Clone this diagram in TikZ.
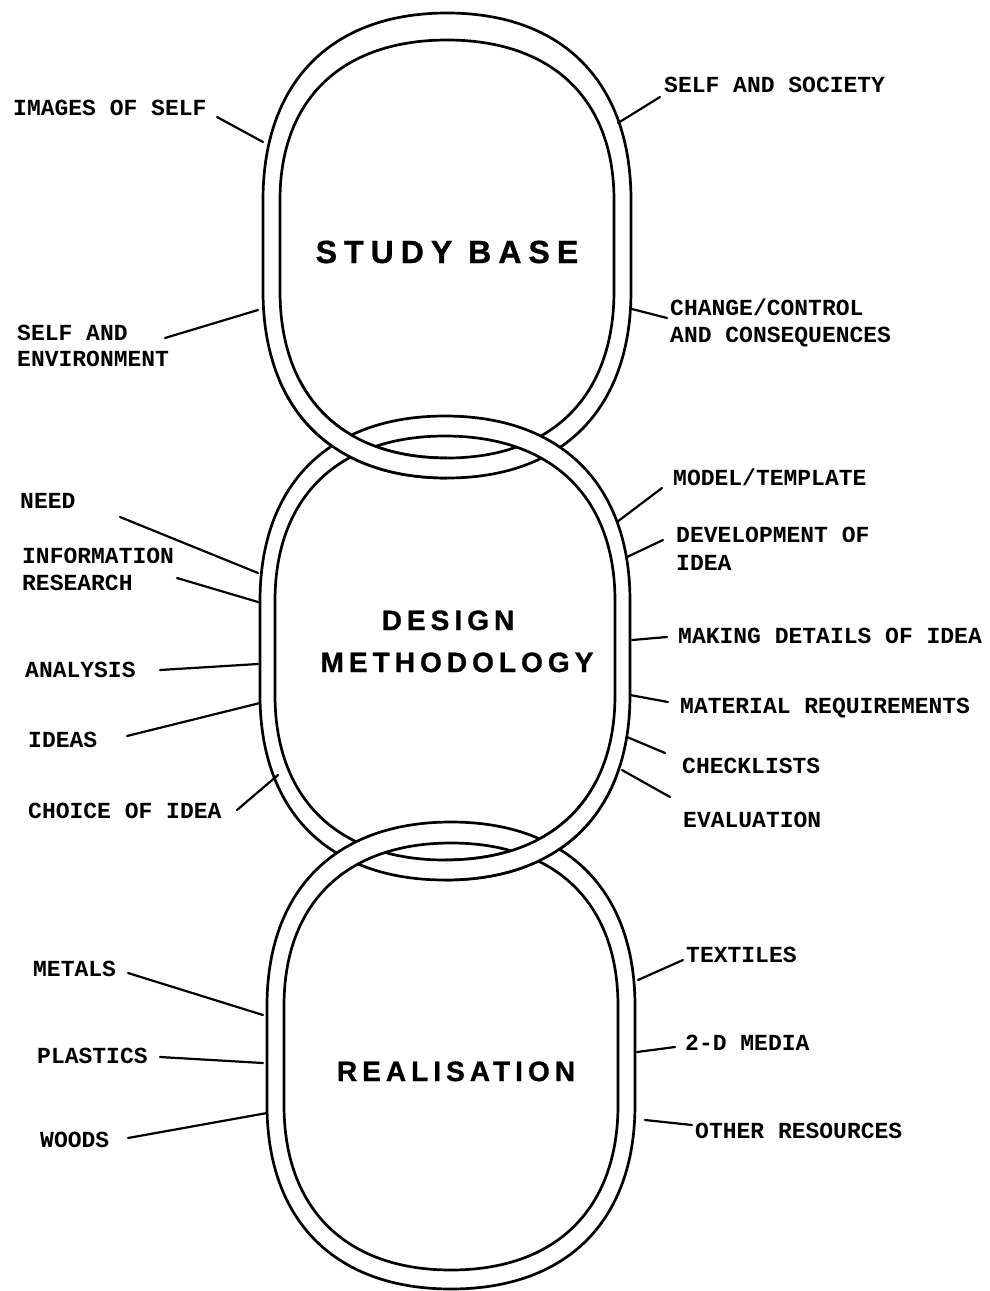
\documentclass[tikz,border=0pt]{standalone}
\usepackage{fontspec}
\newfontfamily\labelfont{Liberation Mono Bold}
\newfontfamily\titlefont{Liberation Sans Bold}[LetterSpace=18,FakeBold=1]
\newfontfamily\bigtitlefont{Liberation Sans Bold}[LetterSpace=22,FakeBold=1]

% closed rounded-oblong outline: cx, half-width, top, bottom, start/end of straight sides
\newcommand\ringoutline[6]{({#1-#2},#5) .. controls ({#1-#2},{#5-0.63*(#5-#3)}) and ({#1-0.63*#2},#3) .. (#1,#3)
  .. controls ({#1+0.63*#2},#3) and ({#1+#2},{#5-0.63*(#5-#3)}) .. ({#1+#2},#5)
  -- ({#1+#2},#6) .. controls ({#1+#2},{#6+0.63*(#4-#6)}) and ({#1+0.63*#2},#4) .. (#1,#4)
  .. controls ({#1-0.63*#2},#4) and ({#1-#2},{#6+0.63*(#4-#6)}) .. ({#1-#2},#6) -- cycle}

\newcommand\studyOuter{\ringoutline{447}{184}{13}{478}{200}{291}}
\newcommand\studyInner{\ringoutline{447}{167}{40}{458}{200}{291}}
\newcommand\designOuter{\ringoutline{445}{185}{416}{880}{601}{695}}
\newcommand\designInner{\ringoutline{445}{170}{436}{860}{601}{695}}
\newcommand\realOuter{\ringoutline{451}{184}{822}{1289}{1006}{1105}}
\newcommand\realInner{\ringoutline{451}{167}{843}{1270}{1006}{1105}}

% a chain link: white band between two outlines
\newcommand\drawlink[2]{%
  \fill[white,even odd rule] #1 #2;
  \draw[ringline] #1;
  \draw[ringline] #2;}

\begin{document}
\begin{tikzpicture}[x=1pt,y=-1pt,
  ringline/.style={line width=2.7pt},
  leader/.style={line width=2.2pt,line cap=round},
  lbl/.style={anchor=base west,inner sep=0pt,
    font=\labelfont\fontsize{23}{27}\selectfont},
  ttl/.style={anchor=base,inner sep=0pt,
    font=\titlefont\fontsize{28}{32}\selectfont},
  bigttl/.style={anchor=base,inner sep=0pt,
    font=\bigtitlefont\fontsize{32}{36}\selectfont}]

\useasboundingbox (0,0) rectangle (990,1291);
\fill[white] (0,0) rectangle (990,1291);

% interlocking links
\drawlink{\studyOuter}{\studyInner}
\drawlink{\designOuter}{\designInner}
\begin{scope}
  \clip (240,380) rectangle (447,500);
  \drawlink{\studyOuter}{\studyInner}
\end{scope}
\drawlink{\realOuter}{\realInner}
\begin{scope}
  \clip (445,780) rectangle (660,900);
  \drawlink{\designOuter}{\designInner}
\end{scope}

% titles
\node[bigttl] (study) at (447,263) {STUDY BASE};
\node[ttl] (design) at (448,630) {DESIGN};
\node[ttl] (method) at (457,672) {METHODOLOGY};
\node[ttl] (real) at (456,1081) {REALISATION};

% study base labels
\node[lbl] (images) at (13,115) {IMAGES OF SELF};
\node[lbl] (selfenvA) at (17,340) {SELF AND};
\node[lbl] (selfenvB) at (17,366) {ENVIRONMENT};
\node[lbl] (society) at (664,92) {SELF AND SOCIETY};
\node[lbl] (changeA) at (670,315) {CHANGE/CONTROL};
\node[lbl] (changeB) at (670,342) {AND CONSEQUENCES};

% design methodology labels
\node[lbl] (need) at (20,508) {NEED};
\node[lbl] (infoA) at (22,563) {INFORMATION};
\node[lbl] (infoB) at (22,590) {RESEARCH};
\node[lbl] (analysis) at (25,677) {ANALYSIS};
\node[lbl] (ideas) at (28,747) {IDEAS};
\node[lbl] (choice) at (28,818) {CHOICE OF IDEA};
\node[lbl] (model) at (673,485) {MODEL/TEMPLATE};
\node[lbl] (develA) at (676,542) {DEVELOPMENT OF};
\node[lbl] (develB) at (676,570) {IDEA};
\node[lbl] (making) at (678,643) {MAKING DETAILS OF IDEA};
\node[lbl] (material) at (680,713) {MATERIAL REQUIREMENTS};
\node[lbl] (checklists) at (682,773) {CHECKLISTS};
\node[lbl] (evaluation) at (683,827) {EVALUATION};

% realisation labels
\node[lbl] (metals) at (33,976) {METALS};
\node[lbl] (plastics) at (37,1063) {PLASTICS};
\node[lbl] (woods) at (40,1147) {WOODS};
\node[lbl] (textiles) at (686,962) {TEXTILES};
\node[lbl] (media) at (685,1050) {2-D MEDIA};
\node[lbl] (other) at (695,1138) {OTHER RESOURCES};

% leader ends at the labels
\coordinate (images-l) at (217,117);
\coordinate (selfenv-l) at (165,338);
\coordinate (society-l) at (660,97);
\coordinate (change-l) at (667,318);
\coordinate (need-l) at (120,517);
\coordinate (info-l) at (177,578);
\coordinate (analysis-l) at (160,670);
\coordinate (ideas-l) at (127,736);
\coordinate (choice-l) at (237,810);
\coordinate (model-l) at (662,488);
\coordinate (devel-l) at (663,540);
\coordinate (making-l) at (667,637);
\coordinate (material-l) at (668,702);
\coordinate (checklists-l) at (665,753);
\coordinate (evaluation-l) at (670,797);
\coordinate (metals-l) at (128,973);
\coordinate (plastics-l) at (160,1057);
\coordinate (woods-l) at (128,1138);
\coordinate (textiles-l) at (683,960);
\coordinate (media-l) at (675,1047);
\coordinate (other-l) at (692,1125);

% leader ends on the links
\coordinate (images-r) at (263,142);
\coordinate (selfenv-r) at (258,310);
\coordinate (society-r) at (618,123);
\coordinate (change-r) at (632,309);
\coordinate (need-r) at (258,573);
\coordinate (info-r) at (258,602);
\coordinate (analysis-r) at (258,664);
\coordinate (ideas-r) at (260,703);
\coordinate (choice-r) at (278,775);
\coordinate (model-r) at (617,522);
\coordinate (devel-r) at (627,557);
\coordinate (making-r) at (632,640);
\coordinate (material-r) at (630,695);
\coordinate (checklists-r) at (627,737);
\coordinate (evaluation-r) at (622,770);
\coordinate (metals-r) at (263,1015);
\coordinate (plastics-r) at (263,1063);
\coordinate (woods-r) at (267,1113);
\coordinate (textiles-r) at (638,980);
\coordinate (media-r) at (637,1052);
\coordinate (other-r) at (645,1120);

\foreach \n in {images,selfenv,society,change,need,info,analysis,ideas,choice,
  model,devel,making,material,checklists,evaluation,
  metals,plastics,woods,textiles,media,other}
  \draw[leader] (\n-l) -- (\n-r);

\end{tikzpicture}
\end{document}
